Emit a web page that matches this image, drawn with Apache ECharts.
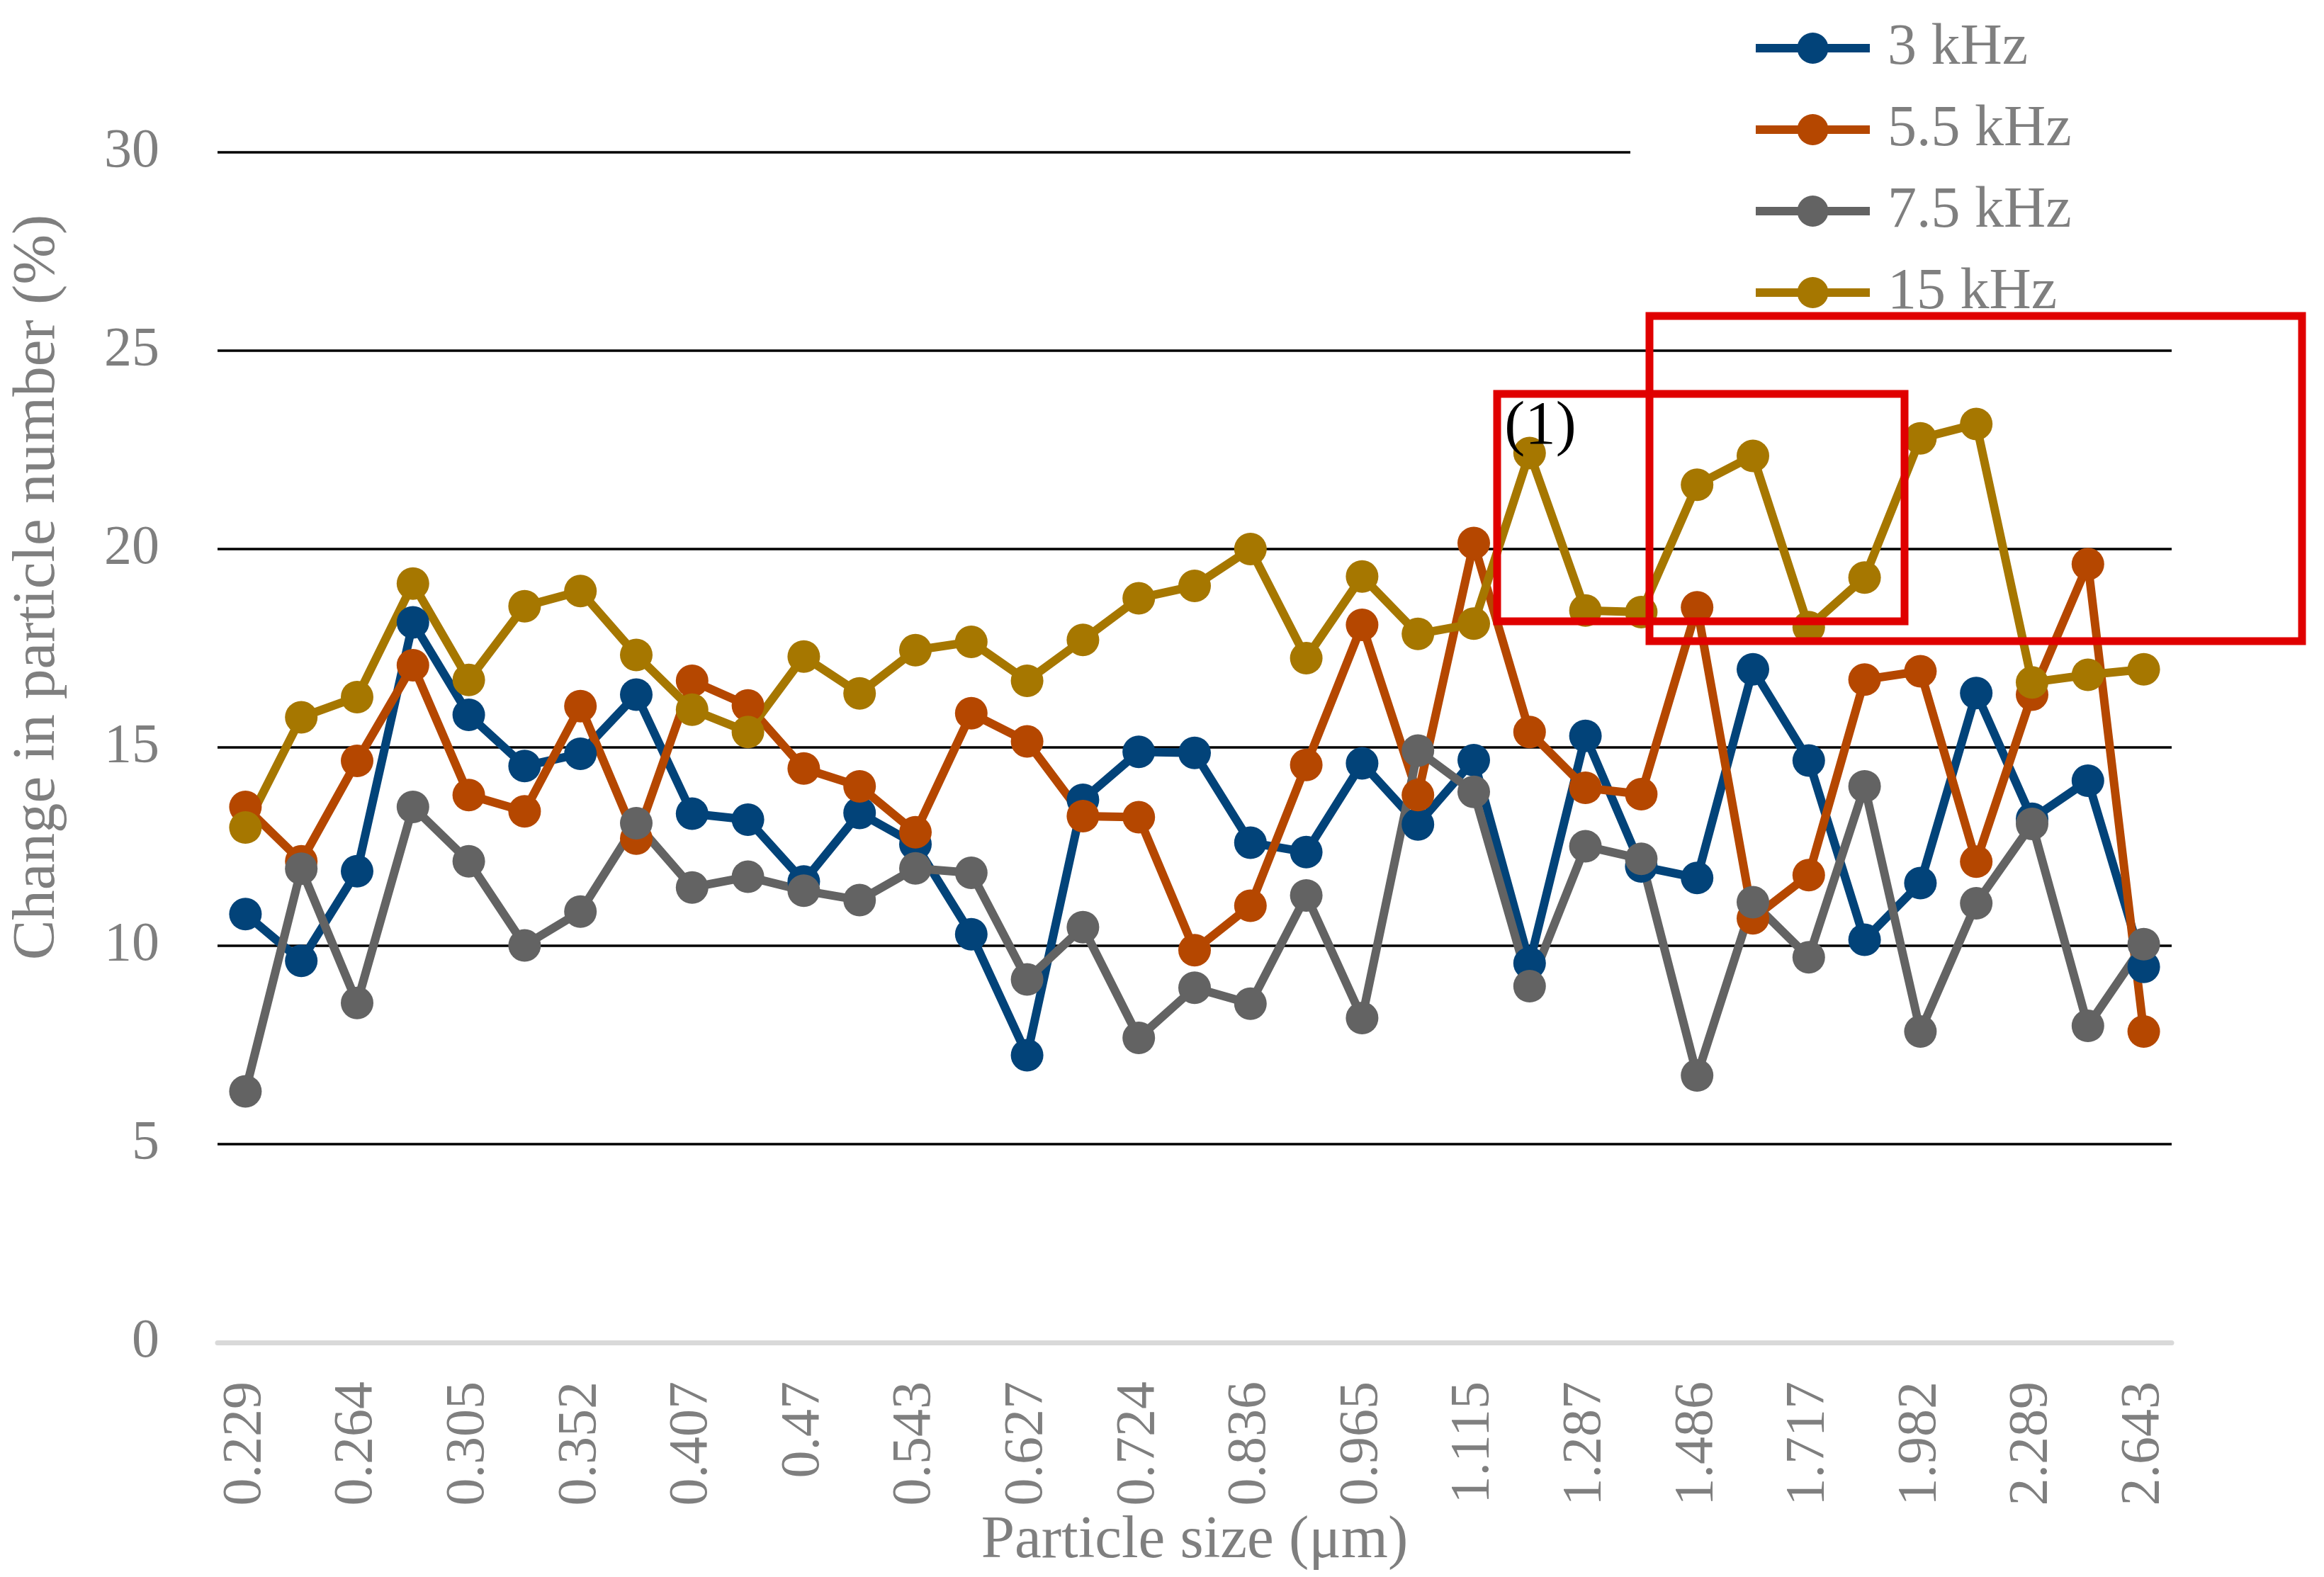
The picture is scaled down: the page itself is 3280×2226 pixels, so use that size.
<!DOCTYPE html>
<html>
<head>
<meta charset="utf-8">
<script src="https://cdn.jsdelivr.net/npm/echarts@6/dist/echarts.min.js"></script>
<style>
  html, body { margin: 0; padding: 0; background: #fff; }
  #chart { width: 3280px; height: 2226px; }
</style>
</head>
<body>
<div id="chart"></div>
<script>
  // particle size classes (µm), every other one is labelled on the axis
  var sizes = ['0.229', '0.246', '0.264', '0.284', '0.305', '0.328', '0.352', '0.379', '0.407', '0.437',
    '0.47', '0.505', '0.543', '0.583', '0.627', '0.674', '0.724', '0.778', '0.836', '0.898',
    '0.965', '1.037', '1.115', '1.198', '1.287', '1.383', '1.486', '1.597', '1.717', '1.845',
    '1.982', '2.13', '2.289', '2.46', '2.643'];

  var khz3 = [10.8, 9.62, 11.88, 18.15, 15.82, 14.53, 14.84, 16.33, 13.33, 13.18,
    11.62, 13.35, 12.56, 10.29, 7.24, 13.68, 14.89, 14.86, 12.6, 12.36,
    14.6, 13.06, 14.68, 9.56, 15.29, 12.0, 11.71, 16.97, 14.67, 10.15,
    11.58, 16.37, 13.2, 14.16, 9.47];
  var khz55 = [13.5, 12.13, 14.66, 17.07, 13.8, 13.39, 16.04, 12.7, 16.68, 16.06,
    14.47, 14.02, 12.86, 15.86, 15.15, 13.27, 13.24, 9.89, 11.01, 14.56,
    18.09, 13.8, 20.15, 15.39, 13.98, 13.82, 18.53, 10.69, 11.78, 16.71,
    16.92, 12.12, 16.33, 19.62, 7.84];
  var khz75 = [6.33, 11.94, 8.56, 13.5, 12.13, 10.01, 10.86, 13.09, 11.47, 11.74,
    11.39, 11.15, 11.95, 11.84, 9.15, 10.47, 7.68, 8.94, 8.54, 11.27,
    8.18, 14.92, 13.88, 8.98, 12.51, 12.19, 6.73, 11.1, 9.71, 14.02,
    7.84, 11.07, 13.07, 7.98, 10.04];
  var khz15 = [12.98, 15.76, 16.27, 19.13, 16.7, 18.56, 18.94, 17.33, 15.95, 15.39,
    17.29, 16.36, 17.45, 17.66, 16.68, 17.71, 18.76, 19.07, 20.0, 17.25,
    19.31, 17.86, 18.12, 22.42, 18.45, 18.41, 21.62, 22.35, 18.03, 19.28,
    22.79, 23.15, 16.64, 16.83, 16.97];

  var seriesNames = ['3 kHz', '5.5 kHz', '7.5 kHz', '15 kHz'];
  var seriesColors = ['#024379', '#b54700', '#636363', '#a67700'];

  var font = '"Liberation Serif", "DejaVu Serif", serif';
  var textGray = '#7f7f7f';

  function makeLine(name, values, color) {
    return {
      name: name,
      type: 'line',
      data: values,
      symbol: 'circle',
      symbolSize: 46,
      showAllSymbol: true,
      itemStyle: { color: color },
      lineStyle: { color: color, width: 12 },
      emphasis: { disabled: true }
    };
  }

  var chart = echarts.init(document.getElementById('chart'));
  chart.setOption({
    animation: false,
    backgroundColor: '#fff',
    grid: { left: 307, right: 215, top: 215, bottom: 331 },
    legend: {
      data: seriesNames,
      orient: 'vertical',
      left: 2301,
      top: 0,
      padding: [27, 400, 8, 171],
      backgroundColor: '#fff',
      itemWidth: 161,
      itemHeight: 55,
      itemGap: 33,
      lineStyle: { width: 12 },
      textStyle: {
        fontFamily: font,
        fontSize: 82,
        color: textGray,
        padding: [0, 0, 0, 20]
      }
    },
    xAxis: {
      type: 'category',
      data: sizes,
      z: 3,
      name: 'Particle size (μm)',
      nameLocation: 'middle',
      nameGap: 228,
      nameTextStyle: { fontFamily: font, fontSize: 85, color: textGray },
      axisLine: { lineStyle: { color: '#d9d9d9', width: 7 } },
      axisTick: { show: false },
      axisLabel: {
        interval: 1,
        rotate: 90,
        margin: 55,
        fontFamily: font,
        fontSize: 78,
        color: textGray
      }
    },
    yAxis: {
      type: 'value',
      min: 0,
      max: 30,
      interval: 5,
      axisLine: { show: false },
      axisTick: { show: false },
      axisLabel: { margin: 82, fontFamily: font, fontSize: 78, color: textGray },
      splitLine: { lineStyle: { color: '#000', width: 3.5 } }
    },
    series: [
      makeLine(seriesNames[0], khz3, seriesColors[0]),
      makeLine(seriesNames[1], khz55, seriesColors[1]),
      makeLine(seriesNames[2], khz75, seriesColors[2]),
      makeLine(seriesNames[3], khz15, seriesColors[3])
    ],
    graphic: [
      {
        type: 'text',
        x: 54,
        y: 829,
        rotation: Math.PI / 2,
        style: {
          text: 'Change in particle number (%)',
          fontFamily: font,
          fontSize: 85,
          fill: textGray,
          align: 'center',
          verticalAlign: 'middle'
        }
      },
      // highlight boxes drawn over the plot
      {
        type: 'rect',
        z: 100,
        shape: { x: 2113, y: 556, width: 575, height: 321 },
        style: { fill: 'none', stroke: '#e00000', lineWidth: 11 }
      },
      {
        type: 'rect',
        z: 100,
        shape: { x: 2328, y: 446, width: 921, height: 459 },
        style: { fill: 'none', stroke: '#e00000', lineWidth: 11 }
      },
      {
        type: 'text',
        z: 100,
        x: 2174,
        y: 603,
        style: {
          text: '(1)',
          fontFamily: font,
          fontSize: 87,
          fill: '#000',
          align: 'center',
          verticalAlign: 'middle'
        }
      }
    ]
  });
</script>
</body>
</html>
